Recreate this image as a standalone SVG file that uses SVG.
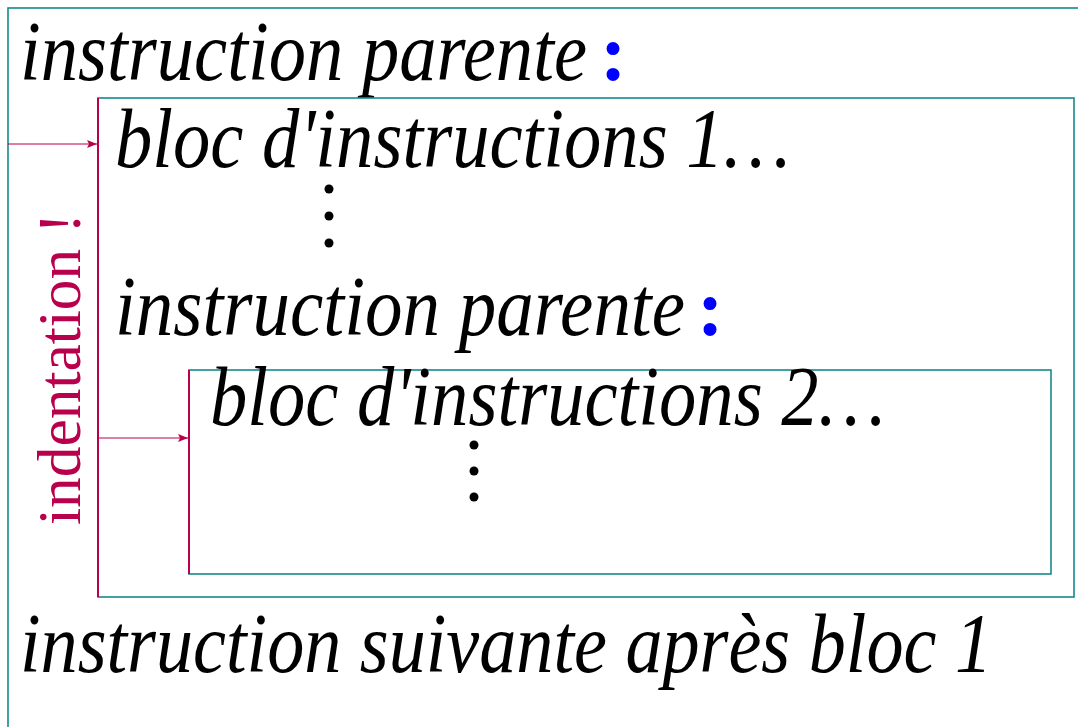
<svg xmlns="http://www.w3.org/2000/svg" width="1078" height="727" viewBox="0 0 1078 727">
<style>
.box{fill:none;stroke:#16898a;stroke-width:1.6}
.ind{fill:none;stroke:#b8004c;stroke-width:2}
.arr{fill:none;stroke:#b8004c;stroke-width:1}
.t{font-family:"Liberation Serif","Times New Roman",serif;font-style:italic;font-size:84px;fill:#000}
.col{font-style:normal;font-weight:bold;font-size:80px;fill:#0000ff}
.lab{font-family:"Liberation Serif","Times New Roman",serif;font-size:62px;fill:#b8004c}
</style>
<defs>
<marker id="ah" markerWidth="10" markerHeight="8" refX="10" refY="4" orient="auto" markerUnits="userSpaceOnUse">
<path d="M0,0 L10,4 L0,8 L2,4 Z" fill="#b8004c"/>
</marker>
</defs>
<rect width="1078" height="727" fill="#fff"/>
<g id="outer">
<rect class="box" x="8" y="8" width="1080" height="740"/>
<text class="t" y="80"><tspan x="20" textLength="567" lengthAdjust="spacingAndGlyphs">instruction parente</tspan><tspan class="col" x="600">:</tspan></text>
<text class="t" x="20" y="672" textLength="972" lengthAdjust="spacingAndGlyphs">instruction suivante après bloc 1</text>
</g>
<g id="bloc1">
<rect class="box" x="98" y="98" width="976" height="499"/>
<line class="ind" x1="98" y1="98" x2="98" y2="597"/>
<text class="t" x="115" y="167" textLength="675" lengthAdjust="spacingAndGlyphs">bloc d'instructions 1…</text>
<circle cx="329" cy="189" r="4.5"/>
<circle cx="329" cy="216" r="4.5"/>
<circle cx="329" cy="243" r="4.5"/>
<text class="t" y="335"><tspan x="115" textLength="570" lengthAdjust="spacingAndGlyphs">instruction parente</tspan><tspan class="col" x="697">:</tspan></text>
</g>
<g id="bloc2">
<rect class="box" x="189" y="370" width="862" height="204"/>
<line class="ind" x1="189" y1="370" x2="189" y2="574"/>
<text class="t" x="210" y="425" textLength="675" lengthAdjust="spacingAndGlyphs">bloc d'instructions 2…</text>
<circle cx="474" cy="445" r="4.5"/>
<circle cx="474" cy="471" r="4.5"/>
<circle cx="474" cy="497" r="4.5"/>
</g>
<g id="label">
<text class="lab" transform="translate(80,525) rotate(-90)" textLength="312" lengthAdjust="spacingAndGlyphs">indentation !</text>
</g>
<g id="connectors">
<line class="arr" x1="8" y1="144" x2="97" y2="144" marker-end="url(#ah)"/>
<line class="arr" x1="99" y1="438" x2="188" y2="438" marker-end="url(#ah)"/>
</g>
</svg>
